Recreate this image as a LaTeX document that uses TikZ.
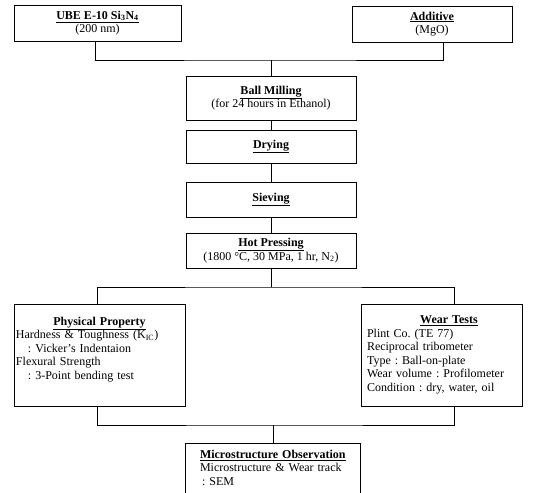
\documentclass[tikz,border=0pt]{standalone}
\usepackage{fontspec}
\setmainfont{Liberation Serif}
\usepackage{tikz}
\usetikzlibrary{calc,positioning}
\frenchspacing

\newcommand{\boxtitle}[1]{\underline{\textbf{#1}}}

\begin{document}
\begin{tikzpicture}[x=1pt,y=-1pt,
		stepbox/.style={draw,line width=0.8pt,inner sep=2pt,align=center,
			font=\fontsize{12}{13.5}\selectfont},
		link/.style={line width=0.8pt}]
			\useasboundingbox (0,0) rectangle (536,493);
			% raw materials
			\node[stepbox,minimum width=167,minimum height=36] (ube) at (97.5,23)
				{\boxtitle{UBE E-10 Si\textsubscript{3}N\textsubscript{4}}\\(200 nm)};
			\node[stepbox,minimum width=160,minimum height=36] (add) at (432,24)
				{\boxtitle{Additive}\\(MgO)};
			% process steps
			\node[stepbox,minimum width=170,minimum height=44] (ball) at (271,98)
				{\boxtitle{Ball Milling}\\(for 24 hours in Ethanol)};
			\node[stepbox,minimum width=170,minimum height=33] (dry) at (271,146.5)
				{\boxtitle{Drying}};
			\node[stepbox,minimum width=170,minimum height=35] (sieve) at (271,199.5)
				{\boxtitle{Sieving}};
			\node[stepbox,minimum width=170,minimum height=35] (hot) at (271,250.5)
				{\boxtitle{Hot Pressing}\\(1800 °C, 30 MPa, 1 hr, N\textsubscript{2})};
			% evaluation
			\node[stepbox,minimum width=171,minimum height=102,text width=167pt,align=left] (phys) at (99.5,355)
				{\makebox[\linewidth]{\boxtitle{Physical Property}}\\
				Hardness \& Toughness (K\textsubscript{IC})\\
				\hspace*{12pt}: Vicker's Indentaion\\
				Flexural Strength\\
				\hspace*{12pt}: 3-Point bending test\\ \mbox{}};
			\node[stepbox,minimum width=161,minimum height=102,inner xsep=6pt,text width=149pt,align=left] (wear) at (441.5,355)
				{\makebox[\linewidth]{\hspace{15pt}\boxtitle{Wear Tests}}\\
				Plint Co. (TE 77)\\
				Reciprocal tribometer\\
				Type : Ball-on-plate\\
				Wear volume : Profilometer\\
				Condition : dry, water, oil};
			\node[stepbox,anchor=north,minimum width=175,minimum height=62,text width=171pt,align=left] (micro) at (272.5,443)
				{\hspace*{13pt}\boxtitle{Microstructure Observation}\\
				\hspace*{13pt}Microstructure \& Wear track\\
				\hspace*{15pt}: SEM\\ \mbox{}};
			% joints
			\coordinate (j1) at (271,60);
			\coordinate (j2) at (271,287);
			\coordinate (j3) at (273,425);
			\draw[link] ([xshift=-2.5pt]ube.south) |- (j1) -| ([xshift=11pt]add.south);
			\draw[link] (j1) -- (ball.north);
			\draw[link] (ball.south) -- (dry.north);
			\draw[link] (dry.south) -- (sieve.north);
			\draw[link] (sieve.south) -- (hot.north);
			\draw[link] (hot.south) -- (j2);
			\draw[link] ([xshift=-2.5pt]phys.north) |- (j2) -| ([xshift=12.5pt]wear.north);
			\draw[link] ([xshift=-2.5pt]phys.south) |- (j3) -| ([xshift=12.5pt]wear.south);
			\draw[link] (j3) -- (micro.north -| j3);
		\end{tikzpicture}
\end{document}
